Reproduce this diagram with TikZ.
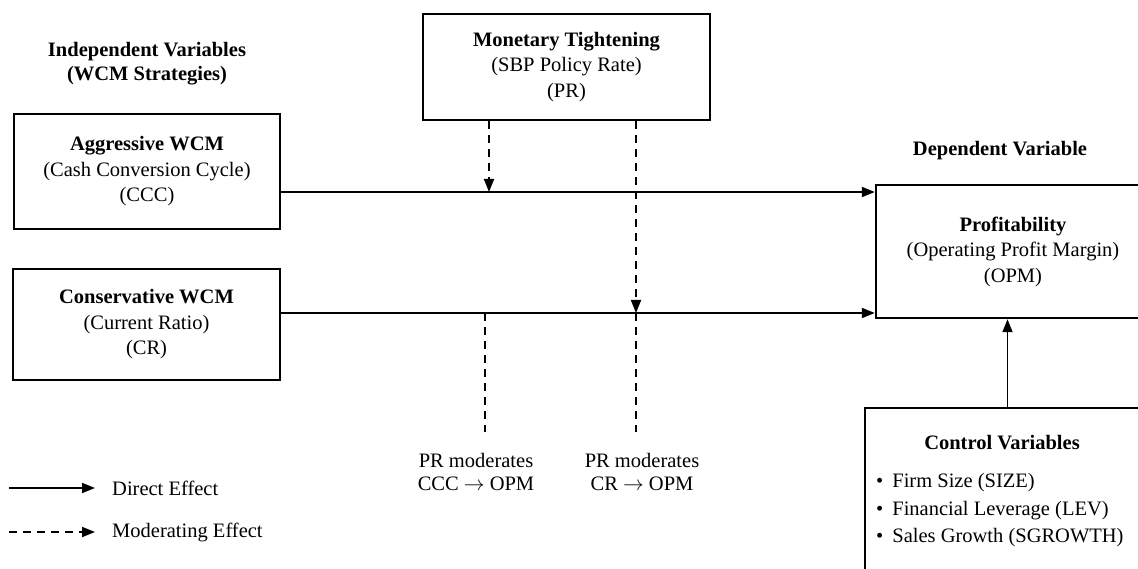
\documentclass[tikz,border=0pt]{standalone}
\usepackage{fontspec}
\setmainfont{Liberation Serif}
\usetikzlibrary{arrows.meta}
\begin{document}
\begin{tikzpicture}[x=1pt,y=-1pt,
  txt/.style={font=\fontsize{20.5}{25.5}\selectfont, align=center, inner sep=0pt},
  box/.style={draw, line width=2.4pt, rectangle, inner sep=0pt, align=center, font=\fontsize{20.5}{25.5}\selectfont},
  direct/.style={line width=1.8pt, -{Triangle[length=13pt,width=10pt]}},
  moder/.style={line width=1.8pt, dash pattern=on 8pt off 6pt, -{Triangle[length=13pt,width=10pt]}},
  moderline/.style={line width=1.8pt, dash pattern=on 8pt off 6pt}
]
\useasboundingbox (0,0) rectangle (1138,569);
\clip (0,0) rectangle (1138,569);

% headings
\node[txt, font=\bfseries\fontsize{20.5}{24}\selectfont] (indep) at (147,64) {Independent Variables\\(WCM Strategies)};
\node[txt, font=\bfseries\fontsize{20.5}{24}\selectfont] (dep) at (1000,151) {Dependent Variable};

% boxes
\node[box, minimum width=266pt, minimum height=115pt] (agg) at (147,171.5)
  {\textbf{Aggressive WCM}\\(Cash Conversion Cycle)\\(CCC)};
\node[box, minimum width=267pt, minimum height=111pt] (cons) at (146.5,324.5)
  {\textbf{Conservative WCM}\\(Current Ratio)\\(CR)};
\node[box, minimum width=287pt, minimum height=106pt] (mon) at (566.5,67)
  {\textbf{Monetary Tightening}\\(SBP Policy Rate)\\(PR)};
\node[box, minimum width=274pt, minimum height=133pt] (prof) at (1013,251.5)
  {\textbf{Profitability}\\(Operating Profit Margin)\\(OPM)};
\node[box, minimum width=285pt, minimum height=200pt] (ctrl) at (1007.5,508) {};
\node[txt, font=\bfseries\fontsize{20.5}{25.5}\selectfont] (ctrlt) at (1002,443) {Control Variables};
\node[txt, anchor=west, align=left, font=\fontsize{20.5}{27.5}\selectfont] (ctrll) at (876,510.5)
  {\textbullet\hspace{9pt}Firm Size (SIZE)\\\textbullet\hspace{9pt}Financial Leverage (LEV)\\\textbullet\hspace{9pt}Sales Growth (SGROWTH)};

% direct effects
\draw[direct] (agg.east |- 0,192) -- (prof.west |- 0,192);
\draw[direct] (cons.east |- 0,313) -- (prof.west |- 0,313);
\draw[direct] (ctrl.north) -- (ctrl.north |- prof.south);

% moderating effects
\coordinate (m1) at (489,192);
\coordinate (m2) at (636,313);
\draw[moder] (mon.south -| m1) -- (m1);
\draw[moder] (mon.south -| m2) -- (m2);

% labels
\node[txt, font=\fontsize{20.5}{23}\selectfont] (lab1) at (476,471.5) {PR moderates\\CCC $\rightarrow$ OPM};
\node[txt, font=\fontsize{20.5}{23}\selectfont] (lab2) at (642,471.5) {PR moderates\\CR $\rightarrow$ OPM};
\coordinate (d1) at (485,313);
\draw[moderline] (d1) -- (d1 |- 0,432);
\draw[moderline] (m2) -- (m2 |- 0,432);

% legend
\coordinate (ls1) at (9,488);
\coordinate (le1) at (95,488);
\coordinate (ls2) at (9,532);
\coordinate (le2) at (95,532);
\draw[direct] (ls1) -- (le1);
\draw[moder, dash pattern=on 8pt off 6pt] (ls2) -- (le2);
\node[txt, anchor=west] (leg1) at (112,488) {Direct Effect};
\node[txt, anchor=west] (leg2) at (112,532) {Moderating Effect};
\end{tikzpicture}
\end{document}
